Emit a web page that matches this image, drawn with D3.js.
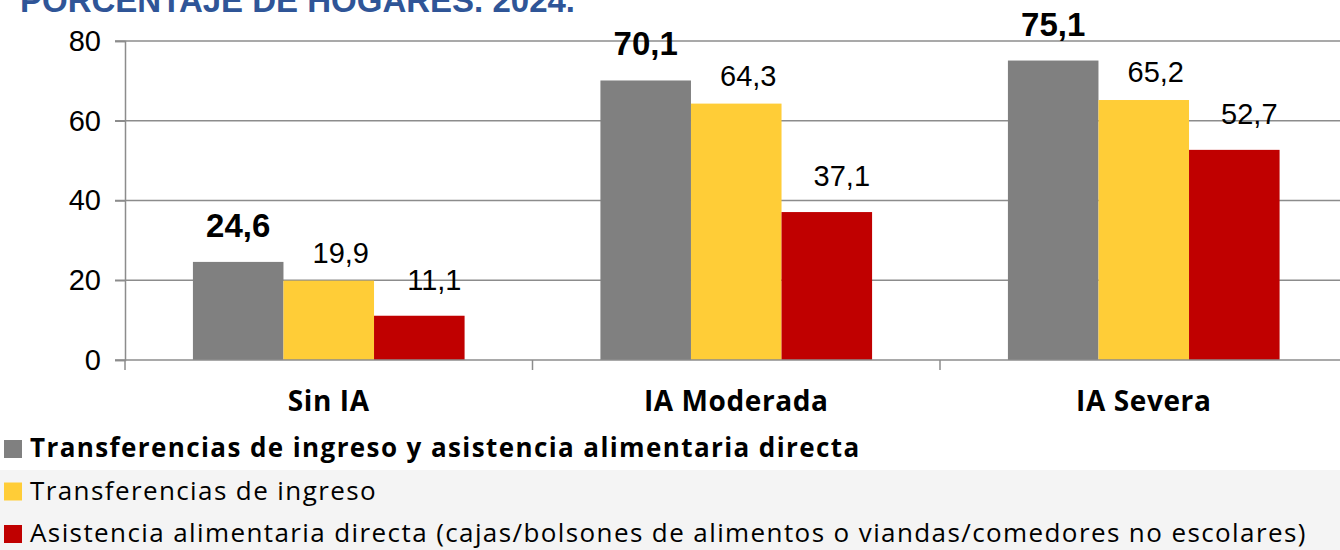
<!DOCTYPE html>
<html>
<head>
<meta charset="utf-8">
<script src="https://cdn.jsdelivr.net/npm/d3@7"></script>
<style>
  body { margin: 0; background: #fff; }
  svg { display: block; }
</style>
</head>
<body>
<div class="chart-container"></div>
<script>
// data
const categories = ["Sin IA", "IA Moderada", "IA Severa"];
const seriesNames = [
  "Transferencias de ingreso y asistencia alimentaria directa",
  "Transferencias de ingreso",
  "Asistencia alimentaria directa (cajas/bolsones de alimentos o viandas/comedores no escolares)",
];
const ambas = [24.6, 70.1, 75.1];
const ingreso = [19.9, 64.3, 65.2];
const alimentaria = [11.1, 37.1, 52.7];
const yTicks = [0, 20, 40, 60, 80];

const colors = ["#808080", "#ffcd37", "#c00000"];
const seriesValues = [ambas, ingreso, alimentaria];

// canvas
const w = 1340;
const h = 550;
const plotLeft = 125;
const plotTop = 41;
const plotBottom = 360;
const catWidth = 407.5;

const svg = d3
  .select(".chart-container")
  .append("svg")
  .attr("width", w)
  .attr("height", h);

// title (cut at top edge like the reference)
svg
  .append("text")
  .attr("x", 20)
  .attr("y", 12)
  .attr("font-family", "Liberation Sans, Arial, sans-serif")
  .attr("font-weight", "bold")
  .attr("font-size", 33)
  .attr("fill", "#2f5597")
  .text("PORCENTAJE DE HOGARES. 2024.");

// scales
const yScale = d3.scaleLinear().domain([0, 80]).range([plotBottom, plotTop]);

const x0 = d3
  .scaleBand()
  .domain(categories)
  .range([plotLeft, plotLeft + catWidth * categories.length])
  .padding(0);

const x1 = d3
  .scaleBand()
  .domain(d3.range(seriesNames.length))
  .range([0, x0.bandwidth()])
  .paddingInner(0)
  .paddingOuter(0.75);

// gridlines
svg
  .append("g")
  .selectAll("line")
  .data(yTicks.filter((d) => d > 0))
  .enter()
  .append("line")
  .attr("x1", plotLeft - 10)
  .attr("x2", w)
  .attr("y1", (d) => yScale(d))
  .attr("y2", (d) => yScale(d))
  .attr("stroke", "#8c8c8c")
  .attr("stroke-width", 1.5);

// y axis
const yAxis = d3.axisLeft(yScale).tickValues(yTicks).tickSize(10).tickPadding(14);
const gy = svg
  .append("g")
  .attr("transform", "translate(" + plotLeft + ",0)")
  .call(yAxis);
gy.select(".domain").attr("stroke", "#8c8c8c").attr("stroke-width", 1.5);
gy.selectAll(".tick line").attr("stroke", "#8c8c8c").attr("stroke-width", 1.5);
gy.selectAll(".tick text")
  .attr("font-family", "Liberation Sans, Arial, sans-serif")
  .attr("font-size", 29)
  .attr("fill", "#000");

// bars
const groups = svg
  .append("g")
  .selectAll("g")
  .data(categories)
  .enter()
  .append("g")
  .attr("transform", (d) => "translate(" + x0(d) + ",0)");

groups
  .selectAll("rect")
  .data((d, i) => seriesValues.map((s, j) => ({ s: j, v: s[i] })))
  .enter()
  .append("rect")
  .attr("x", (d) => x1(d.s))
  .attr("y", (d) => yScale(d.v))
  .attr("width", x1.bandwidth())
  .attr("height", (d) => plotBottom - yScale(d.v))
  .attr("fill", (d) => colors[d.s]);

// data labels, nudged per series like the original
const labelDx = [0, 12, 15];
const labelDy = [-25, -18, -26];
groups
  .selectAll("text")
  .data((d, i) => seriesValues.map((s, j) => ({ s: j, v: s[i] })))
  .enter()
  .append("text")
  .attr("x", (d) => x1(d.s) + x1.bandwidth() / 2 + labelDx[d.s])
  .attr("y", (d) => yScale(d.v) + labelDy[d.s])
  .attr("text-anchor", "middle")
  .attr("font-family", "Liberation Sans, Arial, sans-serif")
  .attr("font-weight", (d) => (d.s === 0 ? "bold" : "normal"))
  .attr("font-size", (d) => (d.s === 0 ? 33 : 29))
  .attr("fill", "#000")
  .text((d) => d3.format(".1f")(d.v).replace(".", ","));

// x axis
const gx = svg.append("g").attr("transform", "translate(0," + plotBottom + ")");
gx.append("line")
  .attr("x1", plotLeft - 10)
  .attr("x2", w)
  .attr("stroke", "#8c8c8c")
  .attr("stroke-width", 1.5);
gx.selectAll(".sep")
  .data(categories)
  .enter()
  .append("line")
  .attr("class", "sep")
  .attr("x1", (d) => x0(d))
  .attr("x2", (d) => x0(d))
  .attr("y1", 0)
  .attr("y2", 10)
  .attr("stroke", "#8c8c8c")
  .attr("stroke-width", 1.5);
gx.selectAll("text")
  .data(categories)
  .enter()
  .append("text")
  .attr("x", (d) => x0(d) + x0.bandwidth() / 2)
  .attr("y", 51)
  .attr("text-anchor", "middle")
  .attr("font-family", "Open Sans, sans-serif")
  .attr("font-weight", "bold")
  .attr("font-size", 28)
  .attr("letter-spacing", 0.6)
  .attr("fill", "#000")
  .text((d) => d);

// legend
svg
  .append("rect")
  .attr("x", 0)
  .attr("y", 470)
  .attr("width", w)
  .attr("height", h - 470)
  .attr("fill", "#f4f4f4");

const legend = svg
  .append("g")
  .selectAll("g")
  .data(seriesNames)
  .enter()
  .append("g")
  .attr("transform", (d, i) => "translate(0," + (458 + i * 42.5) + ")");

legend
  .append("rect")
  .attr("x", 4)
  .attr("y", -18)
  .attr("width", 18)
  .attr("height", 18)
  .attr("fill", (d, i) => colors[i]);

legend
  .append("text")
  .attr("x", 30)
  .attr("y", -1)
  .attr("font-family", "Open Sans, sans-serif")
  .attr("font-weight", (d, i) => (i === 0 ? "bold" : "normal"))
  .attr("font-size", 26)
  .attr("letter-spacing", 1.4)
  .attr("fill", "#000")
  .text((d) => d);
</script>
</body>
</html>
